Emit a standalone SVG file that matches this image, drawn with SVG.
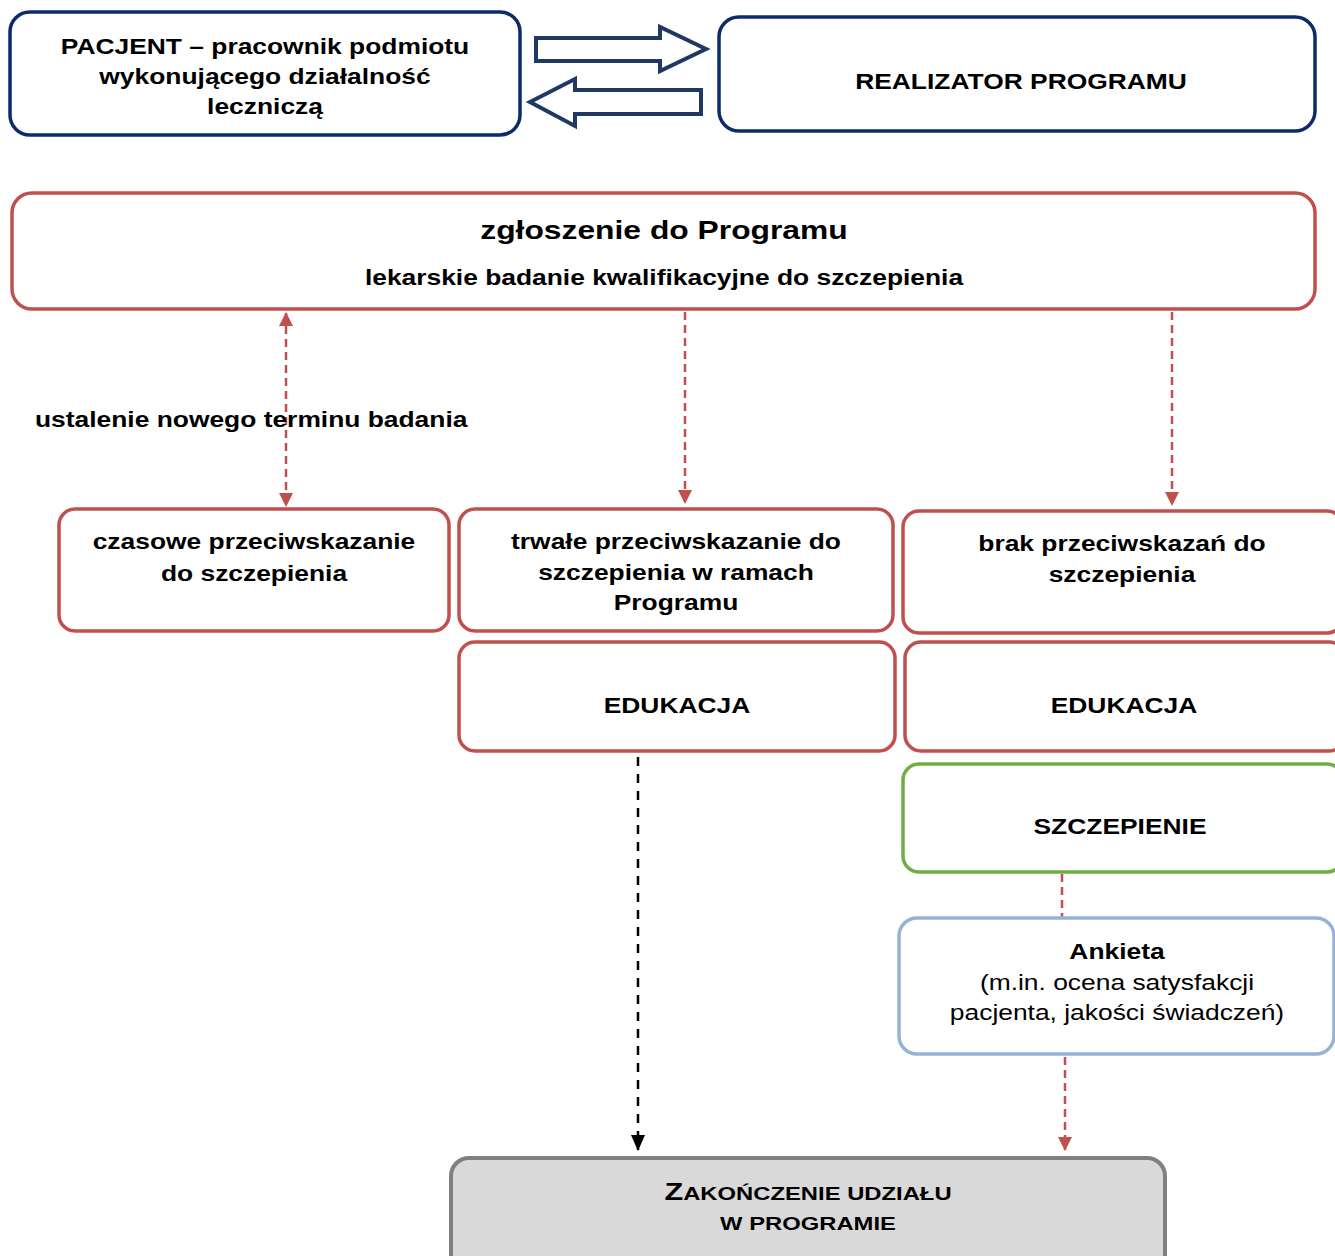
<svg xmlns="http://www.w3.org/2000/svg" width="1335" height="1256" viewBox="0 0 1335 1256">
<defs>
<style>
text{font-family:"Liberation Sans",Arial,sans-serif;fill:#000;}
.b{font-weight:bold;font-size:22px;}
.r{font-weight:normal;font-size:22px;}
.big{font-weight:bold;font-size:26.5px;}
.end{font-weight:bold;font-size:18.6px;}
.navy{fill:#fff;stroke:#0d2a6b;stroke-width:3.5;}
.red{fill:#fff;stroke:#c0504d;stroke-width:3.5;}
.green{fill:#fff;stroke:#70ad47;stroke-width:3.5;}
.blue{fill:#fff;stroke:#95b3d7;stroke-width:3.5;}
.gray{fill:#d9d9d9;stroke:#808080;stroke-width:4;}
.dr{fill:none;stroke:#c0504d;stroke-width:2.5;stroke-dasharray:8 5;}
.dk{fill:none;stroke:#000;stroke-width:2.5;stroke-dasharray:9 8;}
.bigarrow{fill:#fff;stroke:#1f3864;stroke-width:4;stroke-linejoin:miter;}
</style>
<marker id="ar" viewBox="0 0 14 14" refX="13" refY="7" markerWidth="14" markerHeight="14" markerUnits="userSpaceOnUse" orient="auto-start-reverse">
<path d="M0,0 L14,7 L0,14 Z" fill="#c0504d"/>
</marker>
<marker id="ak" viewBox="0 0 16 14" refX="15" refY="7" markerWidth="16" markerHeight="14" markerUnits="userSpaceOnUse" orient="auto">
<path d="M0,0 L16,7 L0,14 Z" fill="#000"/>
</marker>
</defs>
<rect width="1335" height="1256" fill="#fff"/>

<g id="connectors">
<path class="bigarrow" d="M536,38 L660,38 L660,27 L706,49 L660,71 L660,61 L536,61 Z"/>
<path class="bigarrow" d="M701,90 L575,90 L575,79 L530,102 L575,126 L575,114 L701,114 Z"/>
<line class="dr" x1="286" y1="313" x2="286" y2="506" marker-start="url(#ar)" marker-end="url(#ar)"/>
<line class="dr" x1="685" y1="312" x2="685" y2="503" marker-end="url(#ar)"/>
<line class="dr" x1="1172" y1="312" x2="1172" y2="505" marker-end="url(#ar)"/>
<line class="dr" x1="1062" y1="874" x2="1062" y2="917"/>
<line class="dr" x1="1065" y1="1057" x2="1065" y2="1150" marker-end="url(#ar)"/>
<line class="dk" x1="638" y1="757" x2="638" y2="1150" marker-end="url(#ak)"/>
</g>

<g id="pacjent">
<rect class="navy" x="10" y="12" width="510" height="123" rx="20"/>
<text class="b" text-anchor="middle" transform="translate(265 54) scale(1.2 1)">PACJENT – pracownik podmiotu</text>
<text class="b" text-anchor="middle" transform="translate(265 84) scale(1.2 1)">wykonującego działalność</text>
<text class="b" text-anchor="middle" transform="translate(265 114) scale(1.2 1)">leczniczą</text>
</g>

<g id="realizator">
<rect class="navy" x="719" y="17" width="596" height="114" rx="20"/>
<text class="b" text-anchor="middle" transform="translate(1021 89) scale(1.2 1)">REALIZATOR PROGRAMU</text>
</g>

<g id="zgloszenie">
<rect class="red" x="12" y="193" width="1303" height="116" rx="20"/>
<text class="big" text-anchor="middle" transform="translate(664 239) scale(1.2 1)">zgłoszenie do Programu</text>
<text class="b" text-anchor="middle" transform="translate(664 285) scale(1.2 1)">lekarskie badanie kwalifikacyjne do szczepienia</text>
</g>

<g id="label-termin">
<text class="b" transform="translate(35 427) scale(1.2 1)">ustalenie nowego terminu badania</text>
</g>

<g id="czasowe">
<rect class="red" x="59" y="509" width="390" height="122" rx="16"/>
<text class="b" text-anchor="middle" transform="translate(254 549) scale(1.2 1)">czasowe przeciwskazanie</text>
<text class="b" text-anchor="middle" transform="translate(254 581) scale(1.2 1)">do szczepienia</text>
</g>

<g id="trwale">
<rect class="red" x="459" y="509" width="434" height="122" rx="16"/>
<text class="b" text-anchor="middle" transform="translate(676 549) scale(1.2 1)">trwałe przeciwskazanie do</text>
<text class="b" text-anchor="middle" transform="translate(676 580) scale(1.2 1)">szczepienia w ramach</text>
<text class="b" text-anchor="middle" transform="translate(676 610) scale(1.2 1)">Programu</text>
</g>

<g id="brak">
<rect class="red" x="903" y="511" width="440" height="122" rx="16"/>
<text class="b" text-anchor="middle" transform="translate(1122 551) scale(1.2 1)">brak przeciwskazań do</text>
<text class="b" text-anchor="middle" transform="translate(1122 582) scale(1.2 1)">szczepienia</text>
</g>

<g id="edukacja1">
<rect class="red" x="459" y="642" width="436" height="109" rx="16"/>
<text class="b" text-anchor="middle" transform="translate(677 713) scale(1.2 1)">EDUKACJA</text>
</g>

<g id="edukacja2">
<rect class="red" x="905" y="642" width="440" height="109" rx="16"/>
<text class="b" text-anchor="middle" transform="translate(1124 713) scale(1.2 1)">EDUKACJA</text>
</g>

<g id="szczepienie">
<rect class="green" x="903" y="764" width="440" height="108" rx="16"/>
<text class="b" text-anchor="middle" transform="translate(1120 834) scale(1.2 1)">SZCZEPIENIE</text>
</g>

<g id="ankieta">
<rect class="blue" x="899" y="918" width="435" height="136" rx="18"/>
<text class="b" text-anchor="middle" transform="translate(1117 959) scale(1.2 1)">Ankieta</text>
<text class="r" text-anchor="middle" transform="translate(1117 990) scale(1.2 1)">(m.in. ocena satysfakcji</text>
<text class="r" text-anchor="middle" transform="translate(1117 1020) scale(1.2 1)">pacjenta, jakości świadczeń)</text>
</g>

<g id="zakonczenie">
<rect class="gray" x="451" y="1158" width="714" height="120" rx="18"/>
<text class="end" text-anchor="middle" transform="translate(808 1200) scale(1.28 1)"><tspan font-size="24">Z</tspan>AKOŃCZENIE UDZIAŁU</text>
<text class="end" text-anchor="middle" transform="translate(808 1230) scale(1.28 1)">W PROGRAMIE</text>
</g>
</svg>
